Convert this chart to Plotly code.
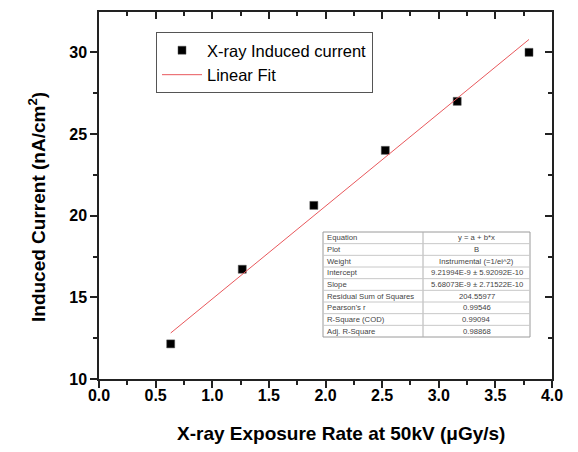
import plotly.graph_objects as go
import numpy as np

# ---- data ----
exposure_rate = [0.633, 1.265, 1.897, 2.528, 3.163, 3.797]
induced_current = [12.15, 16.72, 20.63, 24.0, 27.0, 30.0]
fit_intercept = 9.21994
fit_slope = 5.68073

x_ticks = [0.0, 0.5, 1.0, 1.5, 2.0, 2.5, 3.0, 3.5, 4.0]
y_ticks = [10, 15, 20, 25, 30]

x_title = "X-ray Exposure Rate at 50kV (\u03bcGy/s)"
y_title = "Induced Current (nA/cm<sup>2</sup>)"

table_labels = ["Equation", "Plot", "Weight", "Intercept", "Slope",
                "Residual Sum of Squares", "Pearson's r", "R-Square (COD)", "Adj. R-Square"]
table_values = ["y = a + b*x", "B", "Instrumental (=1/ei^2)",
                "9.21994E-9 \u00b1 5.92092E-10", "5.68073E-9 \u00b1 2.71522E-10",
                "204.55977", "0.99546", "0.99094", "0.98868"]

# ---- layout constants ----
W, H = 578, 452
L, R, T, B = 99, 26, 12, 73
FONT = "Arial, Liberation Sans, sans-serif"
AX = "#222222"

fit_x = np.array([min(exposure_rate), max(exposure_rate)])
fit_y = fit_intercept + fit_slope * fit_x

fig = go.Figure()
fig.add_trace(go.Scatter(
    x=exposure_rate, y=induced_current, mode="markers",
    name="X-ray Induced current",
    marker=dict(symbol="square", size=8, color="black",
                line=dict(color="#555555", width=0.5)),
))
fig.add_trace(go.Scatter(
    x=fit_x, y=fit_y, mode="lines", name="Linear Fit",
    line=dict(color="#e8585c", width=1),
))

# invisible trace for top/right mirror axes
fig.add_trace(go.Scatter(x=[0], y=[10], xaxis="x2", yaxis="y2",
                         mode="markers", marker=dict(opacity=0),
                         showlegend=False, hoverinfo="skip"))

xr = [0, 4.0]
yr = [10, 32.47]

pw, ph = W - L - R, H - T - B
def px(xp): return (xp - L) / pw
def py(yp): return (H - B - yp) / ph

fig.update_layout(
    width=W, height=H,
    margin=dict(l=L, r=R, t=T, b=B),
    paper_bgcolor="white", plot_bgcolor="white",
    font=dict(family=FONT, color="black"),
    showlegend=True,
    legend=dict(x=px(156), y=py(32), xanchor="left", yanchor="top",
                bgcolor="rgba(255,255,255,0)", bordercolor="#555555", borderwidth=1,
                font=dict(size=16.5, family=FONT), tracegroupgap=0,
                itemwidth=40),
    xaxis=dict(range=xr, tickvals=x_ticks, ticktext=[f"{v:.1f}" for v in x_ticks],
               ticks="outside", ticklen=7, tickwidth=1.5, tickcolor=AX,
               ticklabelstandoff=-6,
               minor=dict(ticks="outside", ticklen=4, tickwidth=1.5, dtick=0.25,
                          tickcolor=AX, showgrid=False),
               showline=True, linecolor=AX, linewidth=1.5, showgrid=False,
               zeroline=False,
               tickfont=dict(size=16, family=FONT, weight="bold")),
    yaxis=dict(range=yr, tickvals=y_ticks, ticks="outside", ticklen=7, tickwidth=1.5,
               tickcolor=AX,
               minor=dict(ticks="outside", ticklen=4, tickwidth=1.5, dtick=2.5,
                          tickcolor=AX, showgrid=False),
               showline=True, linecolor=AX, linewidth=1.5, showgrid=False,
               zeroline=False,
               tickfont=dict(size=16, family=FONT, weight="bold")),
    xaxis2=dict(range=xr, overlaying="x", side="top", showticklabels=False,
                tickvals=x_ticks, ticks="inside", ticklen=7, tickwidth=1.5, tickcolor=AX,
                minor=dict(ticks="inside", ticklen=4, tickwidth=1.5, dtick=0.25,
                           tickcolor=AX, showgrid=False),
                showline=True, linecolor=AX, linewidth=1.5, showgrid=False, zeroline=False),
    yaxis2=dict(range=yr, overlaying="y", side="right", showticklabels=False,
                tickvals=y_ticks, ticks="inside", ticklen=7, tickwidth=1.5, tickcolor=AX,
                minor=dict(ticks="inside", ticklen=4, tickwidth=1.5, dtick=2.5,
                           tickcolor=AX, showgrid=False),
                showline=True, linecolor=AX, linewidth=1.5, showgrid=False, zeroline=False),
)

# ---- statistics table (paper coords derived from pixel positions) ----
tl, tr, tt, tb = 323, 530, 232, 337
tm = 423
n = len(table_labels)
rh = (tb - tt) / n
shapes = []
shapes.append(dict(type="rect", xref="paper", yref="paper",
                   x0=px(tl), x1=px(tr), y0=py(tb), y1=py(tt),
                   line=dict(color="#9a9a9a", width=1), fillcolor="white", layer="above"))
shapes.append(dict(type="line", xref="paper", yref="paper",
                   x0=px(tm), x1=px(tm), y0=py(tb), y1=py(tt),
                   line=dict(color="#b0b0b0", width=1), layer="above"))
for i in range(1, n):
    yy = tt + i * rh
    shapes.append(dict(type="line", xref="paper", yref="paper",
                       x0=px(tl), x1=px(tr), y0=py(yy), y1=py(yy),
                       line=dict(color="#c8c8c8", width=1), layer="above"))
annotations = []
for i, (lab, val) in enumerate(zip(table_labels, table_values)):
    yc = tt + (i + 0.5) * rh
    annotations.append(dict(xref="paper", yref="paper", x=px(tl + 2), y=py(yc),
                            xanchor="left", yanchor="middle", text=lab, showarrow=False,
                            font=dict(size=7.7, family=FONT, color="#444444")))
    annotations.append(dict(xref="paper", yref="paper", x=px((tm + tr) / 2), y=py(yc),
                            xanchor="center", yanchor="middle", text=val, showarrow=False,
                            font=dict(size=7.7, family=FONT, color="#444444")))

# axis titles
annotations.append(dict(xref="paper", yref="paper", x=px(341), y=py(434),
                        xanchor="center", yanchor="middle", text=x_title, showarrow=False,
                        font=dict(size=19, family=FONT, weight="bold", color="black")))
annotations.append(dict(xref="paper", yref="paper", x=px(37), y=py(207),
                        xanchor="center", yanchor="middle", text=y_title, showarrow=False,
                        textangle=-90,
                        font=dict(size=19, family=FONT, weight="bold", color="black")))
fig.update_layout(shapes=shapes, annotations=annotations)

fig.write_html("out.html")
